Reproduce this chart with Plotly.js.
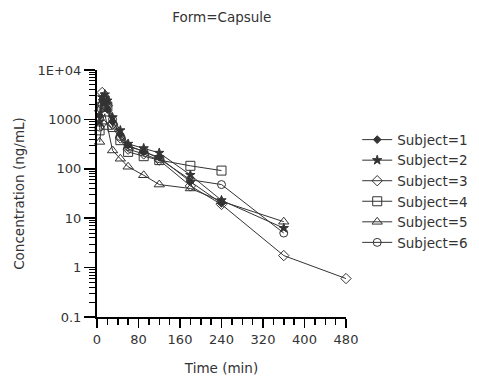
<!DOCTYPE html>
<html>
<head>
<meta charset="utf-8">
<script src="https://cdn.plot.ly/plotly-3.0.1.min.js"></script>
<style>html,body{margin:0;padding:0;background:#fff;}#chart{width:479px;height:385px;}</style>
</head>
<body>
<div id="chart"></div>
<script>
// Data (time in min, concentration in ng/mL)
const subjectNames = ["Subject=1", "Subject=2", "Subject=3", "Subject=4", "Subject=5", "Subject=6"];
const time12 = [5, 10, 15, 20, 30, 45, 60, 90, 120, 180, 240, 360];
const time11 = [5, 10, 15, 20, 30, 45, 60, 90, 120, 180, 240];
const time13 = [5, 10, 15, 20, 30, 45, 60, 90, 120, 180, 240, 360, 480];
const subject1 = [1200, 2500, 2200, 1600, 900, 500, 300, 220, 170, 55, 20];
const subject2 = [900, 2800, 3200, 2400, 1100, 600, 320, 260, 210, 75, 23, 6.3];
const subject3 = [1500, 3500, 2600, 1900, 800, 420, 250, 200, 150, 45, 19, 1.75, 0.6];
const subject4 = [600, 1800, 2400, 1800, 700, 380, 220, 180, 150, 115, 92];
const subject5 = [350, 900, 1300, 700, 235, 160, 110, 74, 48, 40, 22, 8.5];
const subject6 = [700, 2000, 2800, 2100, 1000, 450, 280, 230, 160, 60, 48, 5.0];
const xTickVals = [0, 80, 160, 240, 320, 400, 480];
const yTickVals = [0.1, 1, 10, 100, 1000, 10000];
const yTickText = ["0.1", "1", "10", "100", "1000", "1E+04"];

const lineColor = "#333333";
const series = [
  {x: time11, y: subject1, symbol: "diamond", size: 6},
  {x: time12, y: subject2, symbol: "star", size: 7},
  {x: time13, y: subject3, symbol: "diamond-open", size: 8},
  {x: time11, y: subject4, symbol: "square-open", size: 9},
  {x: time12, y: subject5, symbol: "triangle-up-open", size: 9},
  {x: time12, y: subject6, symbol: "circle-open", size: 8}
];

const traces = series.map((s, i) => ({
  type: "scatter",
  mode: "lines+markers",
  name: subjectNames[i],
  x: s.x,
  y: s.y,
  line: {color: lineColor, width: 1},
  marker: {symbol: s.symbol, size: s.size, color: lineColor, line: {color: lineColor, width: 1}},
  cliponaxis: false
}));

const fam = "DejaVu Sans, Verdana, sans-serif";
const txt = "#333333";

const layout = {
  width: 479,
  height: 385,
  margin: {l: 97, r: 133, t: 70, b: 68, autoexpand: false},
  paper_bgcolor: "#ffffff",
  plot_bgcolor: "#ffffff",
  font: {family: fam, size: 13, color: txt},
  title: {text: "Form=Capsule", x: 0.463, xanchor: "center", y: 0.955, yanchor: "middle", font: {family: fam, size: 13.5, color: txt}},
  showlegend: true,
  legend: {x: 1.045, xanchor: "left", y: 0.78, yanchor: "top", font: {family: fam, size: 13.5, color: txt}, bgcolor: "rgba(0,0,0,0)", itemwidth: 30},
  xaxis: {
    range: [0, 480],
    tickvals: xTickVals,
    ticks: "outside",
    ticklen: 9,
    tickwidth: 1.5,
    tickcolor: "#000000",
    showline: true,
    linecolor: "#000000",
    linewidth: 2,
    showgrid: false,
    zeroline: false,
    minor: {dtick: 20, ticks: "outside", ticklen: 6, tickwidth: 1.5, tickcolor: "#000000", showgrid: false},
    title: {text: "Time (min)", font: {family: fam, size: 13.5, color: txt}, standoff: 18},
    tickfont: {family: fam, size: 13, color: txt}
  },
  yaxis: {
    type: "log",
    range: [-1, 4],
    tickvals: yTickVals,
    ticktext: yTickText,
    ticks: "outside",
    ticklen: 11,
    tickwidth: 1.5,
    tickcolor: "#000000",
    showline: true,
    linecolor: "#000000",
    linewidth: 2,
    showgrid: false,
    zeroline: false,
    minor: {dtick: "D1", ticks: "outside", ticklen: 6, tickwidth: 1, tickcolor: "#000000", showgrid: false},
    title: {text: "Concentration (ng/mL)", font: {family: fam, size: 13.5, color: txt}, standoff: 10},
    tickfont: {family: fam, size: 13, color: txt}
  }
};

Plotly.newPlot("chart", traces, layout, {displayModeBar: false, staticPlot: true});
</script>
</body>
</html>
